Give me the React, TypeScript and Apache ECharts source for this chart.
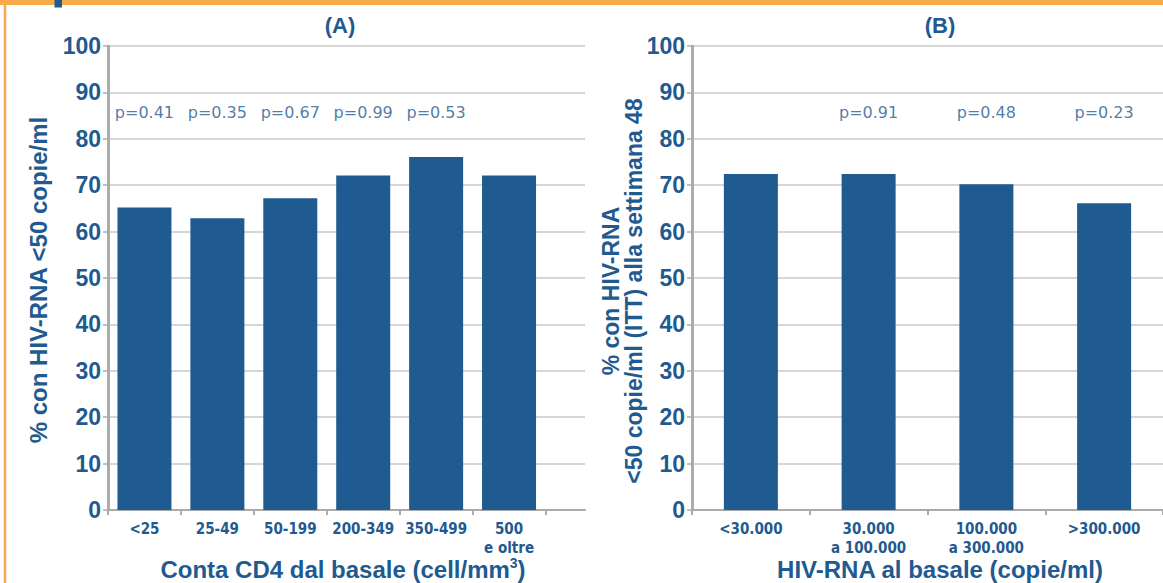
import React, { useEffect, useRef } from "react";
import * as echarts from "echarts";

const categoriesA = ["<25", "25-49", "50-199", "200-349", "350-499", "500\ne oltre"];
const valuesA = [65.2, 62.9, 67.2, 72.1, 76.1, 72.1];
const pLabelsA = ["p=0.41", "p=0.35", "p=0.67", "p=0.99", "p=0.53", ""];

const categoriesB = ["<30.000", "30.000\na 100.000", "100.000\na 300.000", ">300.000"];
const valuesB = [72.4, 72.4, 70.2, 66.1];
const pLabelsB = ["", "p=0.91", "p=0.48", "p=0.23"];

const yTicks = [0, 10, 20, 30, 40, 50, 60, 70, 80, 90, 100];
const pLevel = 85.6;

const BLUE = "#1f5a90";
const BAR = "#1f5a91";
const GRID = "#c9c9c9";
const AXIS = "#ababab";
const ORANGE = "#f8a94a";
const SANS = "'Liberation Sans', Arial, Helvetica, sans-serif";
const NARROW = "'Liberation Sans Narrow', 'DejaVu Sans Condensed', 'Liberation Sans', Arial, sans-serif";

export default function App() {
  const ref = useRef<HTMLDivElement>(null);
  useEffect(() => {
    document.body.style.margin = "0";
    const chart = echarts.init(ref.current!, undefined, { renderer: "svg" });
    const yMin = yTicks[0];
    const yMax = yTicks[yTicks.length - 1];
    const yInterval = yTicks[1] - yTicks[0];

    const gridTop = 46;
    const gridH = 464;

    const yLabel = {
      color: BLUE,
      fontFamily: SANS,
      fontWeight: "bold" as const,
      fontSize: 23,
      margin: 7,
    };
    const xLabel = {
      color: BLUE,
      fontFamily: NARROW,
      fontWeight: "bold" as const,
      fontSize: 15,
      lineHeight: 19,
      margin: 9,
      interval: 0,
      verticalAlign: "top" as const,
    };

    const pSeries = (labels: string[], xi: number, yi: number) => ({
      type: "scatter",
      xAxisIndex: xi,
      yAxisIndex: yi,
      symbolSize: 0,
      silent: true,
      z: 5,
      data: labels.map((t, i) => (t ? [i, pLevel] : null)).filter((d) => d !== null),
      label: {
        show: true,
        position: "inside",
        color: BLUE,
        fontFamily: "'DejaVu Sans', sans-serif",
        fontSize: 16,
        formatter: (p: any) => labels[p.value[0]],
      },
    });

    chart.setOption({
      animation: false,
      grid: [
        { left: 108, top: gridTop, width: 437.5, height: gridH },
        { left: 108, top: gridTop, width: 477, height: gridH },
        { left: 692, top: gridTop, width: 476, height: gridH },
      ],
      xAxis: [
        {
          type: "category",
          gridIndex: 0,
          data: categoriesA,
          axisLine: { show: true, lineStyle: { color: AXIS, width: 2 } },
          axisTick: { show: true, length: 5, lineStyle: { color: AXIS, width: 2 } },
          axisLabel: xLabel,
        },
        {
          type: "value",
          gridIndex: 1,
          min: 0,
          max: 1,
          axisLine: { show: true, lineStyle: { color: AXIS, width: 2 } },
          axisTick: { show: false },
          axisLabel: { show: false },
          splitLine: { show: false },
        },
        {
          type: "category",
          gridIndex: 2,
          data: categoriesB,
          axisLine: { show: true, lineStyle: { color: AXIS, width: 2 } },
          axisTick: { show: true, length: 5, lineStyle: { color: AXIS, width: 2 } },
          axisLabel: xLabel,
        },
      ],
      yAxis: [
        {
          type: "value",
          gridIndex: 0,
          min: yMin,
          max: yMax,
          interval: yInterval,
          axisLine: { show: true, lineStyle: { color: AXIS, width: 3 } },
          axisTick: { show: true, length: 5, lineStyle: { color: AXIS, width: 1.5 } },
          axisLabel: yLabel,
          splitLine: { show: false },
        },
        {
          type: "value",
          gridIndex: 1,
          min: yMin,
          max: yMax,
          interval: yInterval,
          axisLine: { show: false },
          axisTick: { show: false },
          axisLabel: { show: false },
          splitLine: { show: true, lineStyle: { color: GRID, width: 1.5 } },
        },
        {
          type: "value",
          gridIndex: 2,
          min: yMin,
          max: yMax,
          interval: yInterval,
          axisLine: { show: true, lineStyle: { color: AXIS, width: 3 } },
          axisTick: { show: true, length: 5, lineStyle: { color: AXIS, width: 1.5 } },
          axisLabel: yLabel,
          splitLine: { show: true, lineStyle: { color: GRID, width: 1.5 } },
        },
      ],
      series: [
        {
          type: "bar",
          xAxisIndex: 0,
          yAxisIndex: 0,
          data: valuesA,
          barWidth: 54,
          itemStyle: { color: BAR },
          z: 3,
        },
        {
          type: "bar",
          xAxisIndex: 2,
          yAxisIndex: 2,
          data: valuesB,
          barWidth: 54,
          itemStyle: { color: BAR },
          z: 3,
        },
        pSeries(pLabelsA, 0, 0),
        pSeries(pLabelsB, 2, 2),
      ],
      graphic: [
        {
          type: "rect",
          silent: true,
          shape: { x: 5, y: -20, width: 1300, height: 700, r: 22 },
          style: { fill: "none", stroke: ORANGE, lineWidth: 2.5 },
        },
        {
          type: "rect",
          silent: true,
          shape: { x: 0, y: 0, width: 1163, height: 5 },
          style: { fill: ORANGE },
        },
        {
          type: "rect",
          silent: true,
          shape: { x: 54.5, y: 0, width: 7.5, height: 7.5 },
          style: { fill: BAR },
        },
        {
          type: "text",
          x: 340,
          y: 25,
          style: {
            text: "(A)",
            fill: BLUE,
            font: `bold 22px ${SANS}`,
            textAlign: "center",
            textVerticalAlign: "middle",
          },
        },
        {
          type: "text",
          x: 940,
          y: 25,
          style: {
            text: "(B)",
            fill: BLUE,
            font: `bold 22px ${SANS}`,
            textAlign: "center",
            textVerticalAlign: "middle",
          },
        },
        {
          type: "text",
          x: 38,
          y: 280,
          rotation: Math.PI / 2,
          style: {
            text: "% con HIV-RNA <50 copie/ml",
            fill: BLUE,
            font: `bold 24px ${SANS}`,
            textAlign: "center",
            textVerticalAlign: "middle",
          },
        },
        {
          type: "text",
          x: 622,
          y: 291,
          rotation: Math.PI / 2,
          style: {
            text: "% con HIV-RNA\n<50 copie/ml (ITT) alla settimana 48",
            fill: BLUE,
            font: `bold 23px ${SANS}`,
            lineHeight: 23,
            textAlign: "center",
            textVerticalAlign: "middle",
          },
        },
        {
          type: "text",
          x: 343,
          y: 569,
          style: {
            rich: {
              t: { fill: BLUE, font: `bold 24px ${SANS}` },
              s: { fill: BLUE, font: `bold 14px ${SANS}`, verticalAlign: "top", padding: [0, 0, 12, 0] },
            },
            text: "{t|Conta CD4 dal basale (cell/mm}{s|3}{t|)}",
            textAlign: "center",
            textVerticalAlign: "middle",
          },
        },
        {
          type: "text",
          x: 940,
          y: 569,
          style: {
            text: "HIV-RNA al basale (copie/ml)",
            fill: BLUE,
            font: `bold 24px ${SANS}`,
            textAlign: "center",
            textVerticalAlign: "middle",
          },
        },
      ],
    });
    return () => chart.dispose();
  }, []);
  return <div ref={ref} style={{ width: 1163, height: 583, background: "#fff" }} />;
}
